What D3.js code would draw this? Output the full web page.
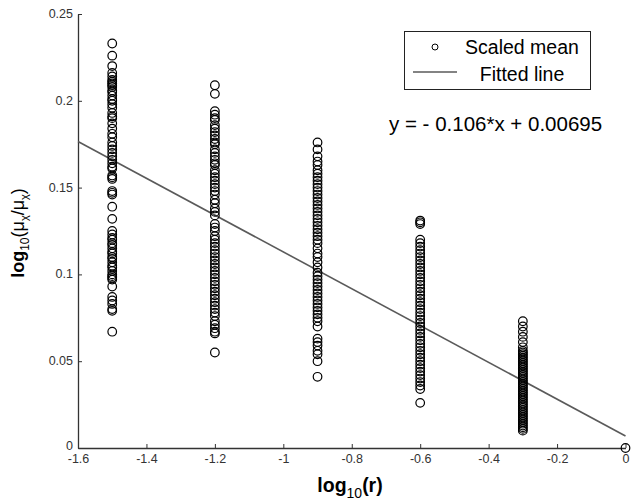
<!DOCTYPE html>
<html>
<head>
<meta charset="utf-8">
<script src="https://cdn.jsdelivr.net/npm/d3@7"></script>
<style>
  body { margin: 0; background: #fff; }
  svg { display: block; font-family: "Liberation Sans", Arial, sans-serif; }
</style>
</head>
<body>
<svg id="chart"></svg>
<script>
// valores
const xTicks = [-1.6, -1.4, -1.2, -1, -0.8, -0.6, -0.4, -0.2, 0];
const yTicks = [0, 0.05, 0.1, 0.15, 0.2, 0.25];

const logR = [-1.5, -1.2, -0.9, -0.6, -0.3, 0];

const meanR15 = [0.233, 0.226, 0.220, 0.216, 0.214, 0.212, 0.211, 0.210, 0.209, 0.208, 0.206,
  0.205, 0.203, 0.201, 0.200, 0.198, 0.196, 0.193, 0.191, 0.190, 0.187, 0.184, 0.181, 0.179,
  0.176, 0.174, 0.172, 0.170, 0.168, 0.166, 0.164, 0.162, 0.161, 0.157, 0.156, 0.155, 0.148,
  0.147, 0.146, 0.139, 0.132, 0.125, 0.123, 0.121, 0.120, 0.118, 0.117, 0.115, 0.113, 0.112,
  0.110, 0.109, 0.107, 0.105, 0.104, 0.102, 0.100, 0.099, 0.098, 0.097, 0.093, 0.087, 0.085,
  0.083, 0.080, 0.079, 0.067];
const meanR12 = [0.209, 0.204, 0.194, 0.192, 0.190, 0.189, 0.186, 0.184, 0.182, 0.180, 0.178,
  0.176, 0.175, 0.172, 0.170, 0.168, 0.166, 0.164, 0.163, 0.160, 0.158, 0.156, 0.154, 0.152,
  0.150, 0.148, 0.146, 0.143, 0.141, 0.138, 0.136, 0.134, 0.129, 0.127, 0.125, 0.122, 0.120,
  0.118, 0.116, 0.114, 0.112, 0.110, 0.108, 0.106, 0.104, 0.102, 0.100, 0.098, 0.096, 0.094,
  0.092, 0.090, 0.088, 0.086, 0.084, 0.082, 0.080, 0.078, 0.076, 0.073, 0.071, 0.069, 0.067,
  0.066, 0.055];
const meanR09 = [0.176, 0.172, 0.168, 0.165, 0.163, 0.160, 0.158, 0.156, 0.154, 0.152, 0.150,
  0.148, 0.146, 0.144, 0.142, 0.140, 0.138, 0.136, 0.134, 0.132, 0.130, 0.128, 0.126, 0.124,
  0.122, 0.120, 0.118, 0.115, 0.112, 0.110, 0.107, 0.104, 0.101, 0.099, 0.097, 0.095, 0.093,
  0.091, 0.089, 0.087, 0.085, 0.083, 0.081, 0.079, 0.077, 0.075, 0.073, 0.070, 0.063, 0.061,
  0.059, 0.056, 0.054, 0.050, 0.041];
const meanR06 = [0.131, 0.130, 0.129, 0.120, 0.118, 0.116, 0.114, 0.112, 0.110, 0.108, 0.106,
  0.104, 0.102, 0.100, 0.098, 0.096, 0.094, 0.092, 0.090, 0.088, 0.086, 0.084, 0.082, 0.080,
  0.078, 0.076, 0.074, 0.072, 0.070, 0.068, 0.066, 0.064, 0.062, 0.060, 0.058, 0.056, 0.054,
  0.052, 0.050, 0.048, 0.046, 0.044, 0.042, 0.040, 0.038, 0.036, 0.034, 0.026];
const meanR03 = [0.073, 0.070, 0.067, 0.064, 0.061, 0.058, 0.056, 0.055, 0.054, 0.053, 0.052,
  0.051, 0.050, 0.049, 0.048, 0.047, 0.046, 0.045, 0.044, 0.043, 0.042, 0.041, 0.040, 0.039,
  0.038, 0.037, 0.036, 0.035, 0.034, 0.033, 0.032, 0.031, 0.030, 0.029, 0.028, 0.027, 0.026,
  0.025, 0.024, 0.023, 0.022, 0.021, 0.020, 0.019, 0.018, 0.017, 0.016, 0.015, 0.014, 0.013,
  0.012, 0.011, 0.010];
const meanR00 = [0];

const fitSlope = -0.106;
const fitIntercept = 0.00695;

const width = 633;
const height = 502;
const MARGINS = { top: 14, right: 7, bottom: 54, left: 78 };

const svg = d3.select('#chart')
  .attr('width', width)
  .attr('height', height);

const x = d3.scaleLinear() // escala X
  .domain([-1.6, 0])
  .range([MARGINS.left, width - MARGINS.right - 0.5]);

const y = d3.scaleLinear() // escala Y
  .domain([0, 0.25])
  .range([height - MARGINS.bottom, MARGINS.top]);

// pontos: um grupo por valor de log10(r)
const groups = [meanR15, meanR12, meanR09, meanR06, meanR03, meanR00];
const points = [];
groups.forEach((vals, i) => vals.forEach(v => points.push({ x: logR[i], y: v })));

// eixos com ticks para dentro
const xAxis = d3.axisBottom(x).tickValues(xTicks).tickSize(-4).tickSizeOuter(0).tickPadding(6)
  .tickFormat(d => d === 0 ? '0' : d3.format('')(d).replace('−', '-'));
const yAxis = d3.axisLeft(y).tickValues(yTicks).tickSize(-4).tickSizeOuter(0).tickPadding(5)
  .tickFormat(d => d === 0 ? '0' : String(d));

const gx = svg.append('g')
  .attr('transform', `translate(0,${y(0)})`)
  .call(xAxis);
const gy = svg.append('g')
  .attr('transform', `translate(${MARGINS.left},0)`)
  .call(yAxis);

[gx, gy].forEach(g => {
  g.select('.domain').attr('stroke', '#333').attr('stroke-width', 1.3);
  g.selectAll('.tick line').attr('stroke', '#333');
  g.selectAll('.tick text')
    .attr('fill', '#333')
    .style('font-size', '12.5px')
    .style('font-family', '"Liberation Sans", Arial, sans-serif');
});
gy.selectAll('.tick text').attr('dy', d => d === 0 ? '0.1em' : '0.28em');

// linha ajustada
const line = d3.line().x(d => x(d)).y(d => y(fitSlope * d + fitIntercept));
svg.append('path')
  .datum(x.domain())
  .attr('d', line)
  .attr('fill', 'none')
  .attr('stroke', '#5a5a5a')
  .attr('stroke-width', 1.6);

svg.append('g')
  .selectAll('circle')
  .data(points)
  .enter()
  .append('circle')
  .attr('cx', d => x(d.x))
  .attr('cy', d => y(d.y))
  .attr('r', 4.3)
  .attr('fill', 'none')
  .attr('stroke', '#000')
  .attr('stroke-width', 1.2);

// legenda
const legend = svg.append('g');
legend.append('rect')
  .attr('x', 404.5).attr('y', 31.5)
  .attr('width', 186).attr('height', 58)
  .attr('fill', '#fff').attr('stroke', '#222').attr('stroke-width', 1);
legend.append('circle')
  .attr('cx', 435).attr('cy', 47).attr('r', 3)
  .attr('fill', 'none').attr('stroke', '#000');
legend.append('line')
  .attr('x1', 413).attr('x2', 457).attr('y1', 72).attr('y2', 72)
  .attr('stroke', '#5a5a5a').attr('stroke-width', 1.6);
legend.append('text')
  .attr('x', 522).attr('y', 54).attr('text-anchor', 'middle')
  .style('font-size', '19.5px').text('Scaled mean');
legend.append('text')
  .attr('x', 522).attr('y', 81).attr('text-anchor', 'middle')
  .style('font-size', '19.5px').text('Fitted line');

// equação
svg.append('text')
  .attr('x', 389).attr('y', 131)
  .style('font-size', '20.5px')
  .text(`y = - ${Math.abs(fitSlope)}*x + ${fitIntercept}`);

// rótulos dos eixos
const xl = svg.append('text')
  .attr('x', 350).attr('y', 492)
  .attr('text-anchor', 'middle')
  .style('font-size', '19.5px').style('font-weight', 'bold');
xl.append('tspan').text('log');
xl.append('tspan').attr('dy', 6).style('font-size', '14px').style('font-weight', 'normal').text('10');
xl.append('tspan').attr('dy', -6).text('(r)');

const yl = svg.append('text')
  .attr('transform', `translate(24,${(y(0) + y(0.25)) / 2 + 2}) rotate(-90)`)
  .attr('text-anchor', 'middle')
  .style('font-size', '18px').style('font-weight', 'bold');
yl.append('tspan').text('log');
yl.append('tspan').attr('dy', 5).style('font-size', '12px').style('font-weight', 'normal').text('10');
yl.append('tspan').attr('dy', -5).style('font-weight', 'normal').text('(μ');
yl.append('tspan').attr('dy', 4).style('font-size', '11px').style('font-weight', 'normal').text('χ');
yl.append('tspan').attr('dy', -4).style('font-weight', 'normal').text('/μ');
yl.append('tspan').attr('dy', 4).style('font-size', '11px').style('font-weight', 'normal').text('χ');
yl.append('tspan').attr('dy', -4).style('font-weight', 'normal').text(')');
</script>
</body>
</html>
